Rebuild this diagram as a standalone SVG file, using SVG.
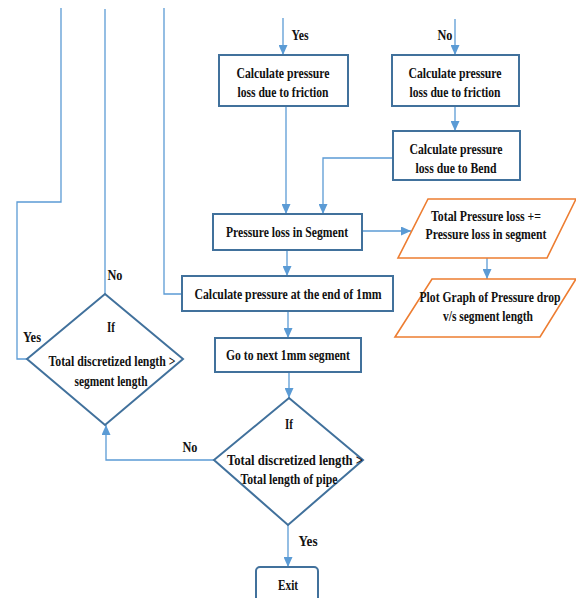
<svg xmlns="http://www.w3.org/2000/svg" width="576" height="598" viewBox="0 0 576 598">
<defs>
<marker id="ah" markerUnits="userSpaceOnUse" markerWidth="10" markerHeight="9" refX="10" refY="4.5" orient="auto">
<path d="M0,0 L10,4.5 L0,9 z" fill="#5B9BD5"/>
</marker>
</defs>
<style>
.box{fill:#fff;stroke:#41719C;stroke-width:2}
.io{fill:#fff;stroke:#ED7D31;stroke-width:1.6}
.c{fill:none;stroke:#5B9BD5;stroke-width:1.3}
.a{marker-end:url(#ah)}
text{font-family:"Liberation Serif","Times New Roman",serif;font-weight:bold;font-size:15.5px;fill:#111;text-anchor:middle}
</style>
<rect width="576" height="598" fill="#fff"/>
<g id="connectors">
<path class="c" d="M61,8 V202 H17 V359 H27"/>
<path class="c" d="M105,9 V294"/>
<path class="c" d="M164,8 V294 H182"/>
<path class="c a" d="M283,18 V55"/>
<path class="c a" d="M455,19 V55"/>
<path class="c a" d="M455,107 V131"/>
<path class="c a" d="M393,158 H323 V214"/>
<path class="c a" d="M286,107 V214"/>
<path class="c a" d="M362,231 H411"/>
<path class="c a" d="M487,258 V279"/>
<path class="c a" d="M287,250 V276"/>
<path class="c a" d="M288,311 V338"/>
<path class="c a" d="M289,372 V398"/>
<path class="c a" d="M288,525 V567"/>
<path class="c a" d="M214,460 H106 V425"/>
</g>
<g id="labels">
<text x="300" y="40" textLength="17" lengthAdjust="spacingAndGlyphs">Yes</text>
<text x="445" y="40" textLength="15" lengthAdjust="spacingAndGlyphs">No</text>
<text x="115" y="280" textLength="15" lengthAdjust="spacingAndGlyphs">No</text>
<text x="32" y="342" textLength="18" lengthAdjust="spacingAndGlyphs">Yes</text>
<text x="190" y="452" textLength="15" lengthAdjust="spacingAndGlyphs">No</text>
<text x="308" y="546" textLength="19" lengthAdjust="spacingAndGlyphs">Yes</text>
</g>
<g id="friction1">
<rect class="box" x="219" y="55" width="129" height="51"/>
<text x="283" y="78" textLength="93" lengthAdjust="spacingAndGlyphs">Calculate pressure</text>
<text x="283" y="97" textLength="91" lengthAdjust="spacingAndGlyphs">loss due to friction</text>
</g>
<g id="friction2">
<rect class="box" x="392" y="55" width="127" height="51"/>
<text x="455" y="78" textLength="93" lengthAdjust="spacingAndGlyphs">Calculate pressure</text>
<text x="455" y="97" textLength="91" lengthAdjust="spacingAndGlyphs">loss due to friction</text>
</g>
<g id="bend">
<rect class="box" x="393" y="131" width="127" height="49"/>
<text x="456" y="154" textLength="93" lengthAdjust="spacingAndGlyphs">Calculate pressure</text>
<text x="456" y="173" textLength="81" lengthAdjust="spacingAndGlyphs">loss due to Bend</text>
</g>
<g id="segment">
<rect class="box" x="213" y="214" width="149" height="36"/>
<text x="287" y="237" textLength="122" lengthAdjust="spacingAndGlyphs">Pressure loss in Segment</text>
</g>
<g id="total">
<polygon class="io" points="428,199 576,199 547,258 398,258"/>
<text x="486" y="221" textLength="110" lengthAdjust="spacingAndGlyphs">Total Pressure loss +=</text>
<text x="486" y="239" textLength="121" lengthAdjust="spacingAndGlyphs">Pressure loss in segment</text>
</g>
<g id="plot">
<polygon class="io" points="432,279 576,279 540,337 395,337"/>
<text x="490" y="302" textLength="141" lengthAdjust="spacingAndGlyphs">Plot Graph of Pressure drop</text>
<text x="488" y="321" textLength="90" lengthAdjust="spacingAndGlyphs">v/s segment length</text>
</g>
<g id="endcalc">
<rect class="box" x="182" y="276" width="211" height="35"/>
<text x="288" y="299" textLength="187" lengthAdjust="spacingAndGlyphs">Calculate pressure at the end of 1mm</text>
</g>
<g id="next">
<rect class="box" x="215" y="338" width="146" height="34"/>
<text x="288" y="360" textLength="124" lengthAdjust="spacingAndGlyphs">Go to next 1mm segment</text>
</g>
<g id="if1">
<polygon class="box" points="105,294 183,359 105,425 27,359"/>
<text x="111" y="332" textLength="8" lengthAdjust="spacingAndGlyphs">If</text>
<text x="112" y="366" textLength="127" lengthAdjust="spacingAndGlyphs">Total discretized length &gt;</text>
<text x="111" y="386" textLength="73" lengthAdjust="spacingAndGlyphs">segment length</text>
</g>
<g id="if2">
<polygon class="box" points="289,398 363,460 288,525 214,460"/>
<text x="289" y="429" textLength="8" lengthAdjust="spacingAndGlyphs">If</text>
<text x="295" y="465" textLength="136" lengthAdjust="spacingAndGlyphs">Total discretized length &gt;</text>
<text x="289" y="484" textLength="97" lengthAdjust="spacingAndGlyphs">Total length of pipe</text>
</g>
<g id="exit">
<rect class="box" x="256" y="567" width="62" height="40" rx="4"/>
<text x="288" y="590" textLength="20" lengthAdjust="spacingAndGlyphs">Exit</text>
</g>
</svg>
